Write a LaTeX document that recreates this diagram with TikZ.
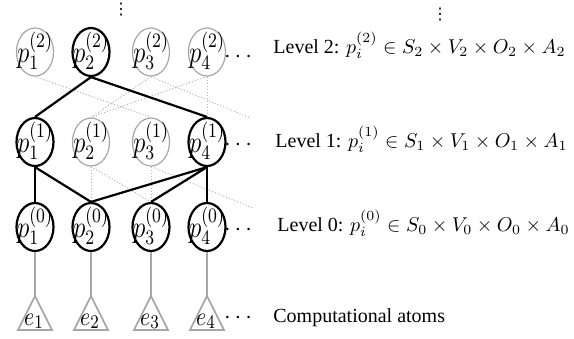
\documentclass[tikz,border=0pt]{standalone}
\usepackage{fontspec}
\usepackage{graphicx}
\setmainfont{Liberation Serif}
\newfontfamily\dvsans{DejaVu Sans}
\usetikzlibrary{shapes.geometric}
\newcommand\plab[2]{\makebox[0pt]{\raisebox{-5.4pt}[0pt][0pt]{\scalebox{1.04}[1.28]{$p_{#1}^{(#2)}$}}}}
\newcommand\elabel[1]{\scalebox{1}[1.2]{$e_{#1}$}}
\begin{document}
\begin{tikzpicture}[x=0.5pt,y=-0.5pt,
  pn/.style={ellipse, inner sep=0pt, minimum width=18.5pt, minimum height=24pt, font=\fontsize{12}{14}\selectfont},
  act/.style={pn, draw=black, line width=1.1pt},
  inact/.style={pn, draw=gray!70, line width=0.6pt},
  strong/.style={draw=black, line width=1.1pt},
  weak/.style={draw=gray!60, densely dotted, line width=0.5pt},
  atomline/.style={draw=gray!70, line width=0.8pt},
  atomtri/.style={draw=gray!70, line width=0.8pt, line join=miter},
  lvl/.style={anchor=base west, inner sep=0pt, font=\fontsize{10}{12}\selectfont},
  dotsn/.style={inner sep=0pt, font=\fontsize{12}{14}\selectfont},
  elab/.style={anchor=base, inner sep=0pt, font=\fontsize{10.95}{13}\selectfont},
  vd/.style={inner sep=0pt, font=\dvsans\fontsize{8}{8}\selectfont}
]
\useasboundingbox (0,0) rectangle (574,338);

% level 2
\node[inact] (p21) at (35,52) {\plab{1}{2}};
\node[act]   (p22) at (91,52) {\plab{2}{2}};
\node[inact] (p23) at (151,52) {\plab{3}{2}};
\node[inact] (p24) at (207,52) {\plab{4}{2}};
% level 1
\node[act]   (p11) at (35,142) {\plab{1}{1}};
\node[inact] (p12) at (91,142) {\plab{2}{1}};
\node[inact] (p13) at (151,142) {\plab{3}{1}};
\node[act]   (p14) at (207,142) {\plab{4}{1}};
% level 0
\node[act] (p01) at (35,227) {\plab{1}{0}};
\node[act] (p02) at (91,227) {\plab{2}{0}};
\node[act] (p03) at (151,227) {\plab{3}{0}};
\node[act] (p04) at (207,227) {\plab{4}{0}};

% atoms
\foreach \i/\x in {1/35,2/91,3/151,4/207}{
  \coordinate (a\i) at (\x,296);
  \draw[atomtri] (a\i) -- (\x-17,330) -- (\x+17,330) -- cycle;
  \node[elab] (e\i) at (\x-1,325) {\elabel{\i}};
  \draw[atomline] (p0\i.south) -- (a\i);
}

% off-picture ends
\coordinate (o2) at (250,118);
\coordinate (o1) at (253,208);

% level 2 -> level 1
\draw[weak] (p21.south) -- (p13.north);
\draw[weak] (p23.south) -- (p12.north);
\draw[weak] (p24.south) -- (p12.north);
\draw[weak] (p24.south) -- (p14.north);
\draw[weak] (p23.south) -- (o2);
\draw[strong] (p22.south) -- (p11.north);
\draw[strong] (p22.south) -- (p14.north);

% level 1 -> level 0
\draw[weak] (p12.south) -- (p02.north);
\draw[weak] (p12.south) -- (p03.north);
\draw[weak] (p13.south) -- (p03.north);
\draw[weak] (p13.south) -- (o1);
\draw[strong] (p11.south) -- (p01.north);
\draw[strong] (p11.south) -- (p02.north);
\draw[strong] (p14.south) -- (p02.north);
\draw[strong] (p14.south) -- (p03.north);
\draw[strong] (p14.south) -- (p04.north);

% dots
\node[dotsn] (d2) at (238,57) {$\cdots$};
\node[dotsn] (d1) at (238,145) {$\cdots$};
\node[dotsn] (d0) at (238,230) {$\cdots$};
\node[dotsn] (de) at (238,318) {$\cdots$};
\node[vd] (v1) at (121,10) {⋮};
\node[vd] (v2) at (440,15) {⋮};

% labels
\node[lvl] (l2) at (273,53) {Level 2: $p_i^{(2)}\in S_2\times V_2\times O_2\times A_2$};
\node[lvl] (l1) at (275,147) {Level 1: $p_i^{(1)}\in S_1\times V_1\times O_1\times A_1$};
\node[lvl] (l0) at (277,231) {Level 0: $p_i^{(0)}\in S_0\times V_0\times O_0\times A_0$};
\node[lvl] (lc) at (273,322) {Computational atoms};
\end{tikzpicture}
\end{document}
